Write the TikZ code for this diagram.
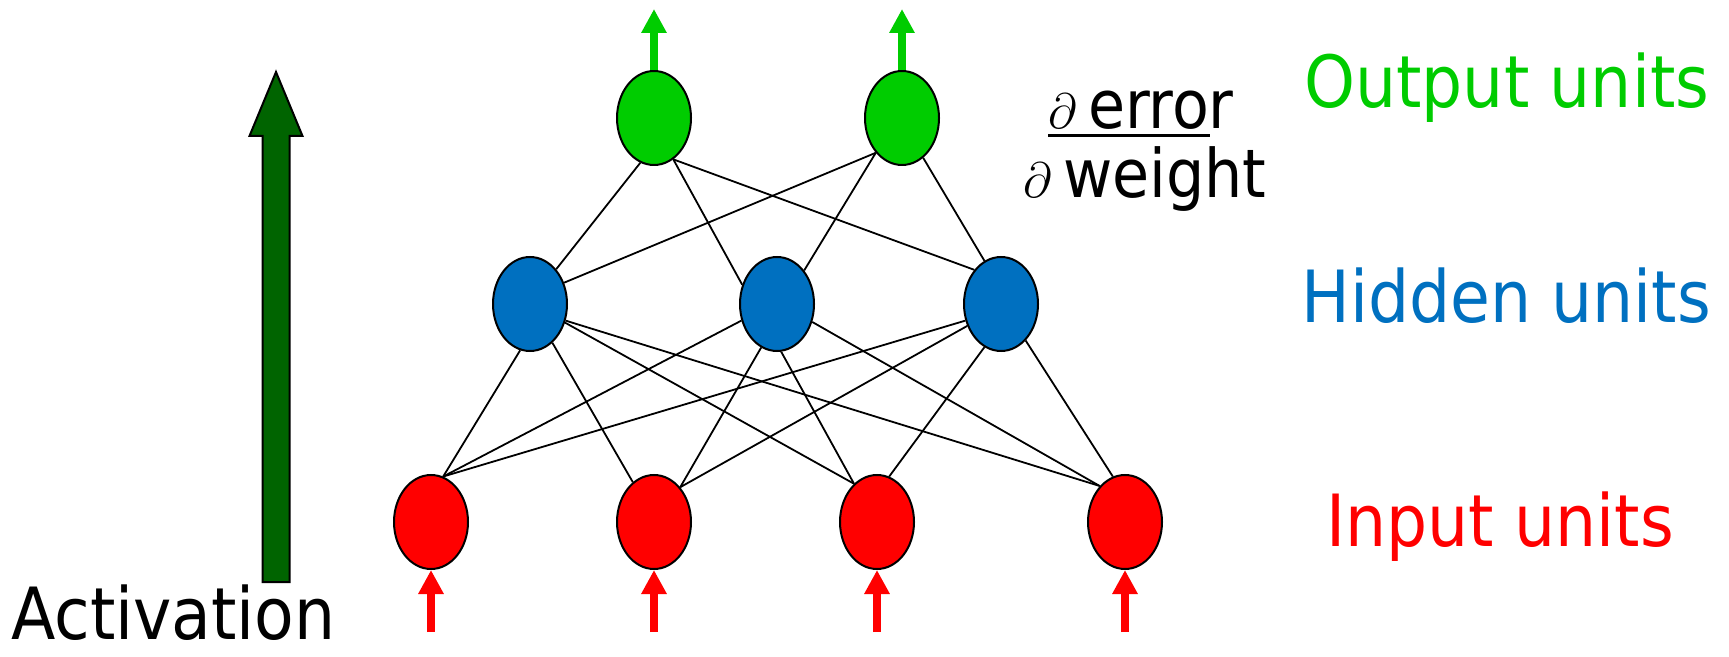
\documentclass[tikz,border=0pt]{standalone}
\usepackage{fontspec}
\setmainfont{DejaVu Sans Condensed}
\usetikzlibrary{shapes.geometric,arrows.meta}

\definecolor{outgreen}{RGB}{0,204,0}
\definecolor{hidblue}{RGB}{0,112,192}
\definecolor{inred}{RGB}{255,0,0}
\definecolor{actgreen}{RGB}{0,100,0}

\tikzset{
  unit/.style={ellipse, draw=black, line width=1pt, minimum width=37pt,
               minimum height=47pt, inner sep=0pt},
  outunit/.style={unit, fill=outgreen},
  hidunit/.style={unit, fill=hidblue},
  inunit/.style={unit, fill=inred},
  link/.style={draw=black, line width=0.9pt},
  flow/.style={line width=4pt, -{Triangle[length=12pt,width=12pt]}},
  label/.style={inner sep=0pt, anchor=base west, font=\fontsize{36pt}{40pt}\selectfont},
  fraclabel/.style={label, font=\fontsize{33.5pt}{38pt}\selectfont}
}

\begin{document}
\begin{tikzpicture}[x=0.5pt,y=-0.5pt]
\useasboundingbox (0,0) rectangle (1729,657);

% units of the three layers
\node[outunit] (O1) at (654,118) {};
\node[outunit] (O2) at (902,118) {};
\node[hidunit] (H1) at (530,304) {};
\node[hidunit] (H2) at (777,304) {};
\node[hidunit] (H3) at (1001,304) {};
\node[inunit] (I1) at (431,522) {};
\node[inunit] (I2) at (654,522) {};
\node[inunit] (I3) at (877,522) {};
\node[inunit] (I4) at (1125,522) {};

% weights between output and hidden units
\draw[link] (O1.253) -- (H1.53);
\draw[link] (O1.295) -- (H2.151);
\draw[link] (O1.295) -- (H3.128);
\draw[link] (O2.233) -- (H1.32);
\draw[link] (O2.233) -- (H2.51);
\draw[link] (O2.298) -- (H3.111);

% weights between hidden and input units
\draw[link] (H1.258) -- (I1.75);
\draw[link] (H1.300) -- (I2.118);
\draw[link] (H1.332) -- (I3.121);
\draw[link] (H1.335) -- (I4.125);
\draw[link] (H2.205) -- (I1.75);
\draw[link] (H2.250) -- (I2.53);
\draw[link] (H2.275) -- (I3.121);
\draw[link] (H2.333) -- (I4.125);
\draw[link] (H3.205) -- (I1.75);
\draw[link] (H3.213) -- (I2.53);
\draw[link] (H3.249) -- (I3.75);
\draw[link] (H3.304) -- (I4.105);

% outputs leaving the network
\coordinate (o1out) at (654,9);
\coordinate (o2out) at (902,9);
\draw[flow, outgreen] (O1.north) -- (o1out);
\draw[flow, outgreen] (O2.north) -- (o2out);

% inputs entering the network
\foreach \i/\x in {1/431,2/654,3/877,4/1125}{
  \coordinate (in\i) at (\x,632);
  \draw[flow, inred] (in\i) -- (I\i.south);
}

% activation direction
\draw[line width=1pt, fill=actgreen]
  (262.5,582) -- (262.5,136) -- (249.5,136) -- (276,72) -- (302.5,136)
  -- (289.5,136) -- (289.5,582) -- cycle;
\node[label] (act) at (11,639) {Activation};

% layer names
\node[label, text=outgreen] (outlbl) at (1304,108) {Output units};
\node[label, text=hidblue] (hidlbl) at (1301,323) {Hidden units};
\node[label, text=inred] (inlbl) at (1326,546) {Input units};

% gradient of the error
\node[fraclabel] (num) at (1048,129) {$\partial$\,error};
\node[fraclabel] (den) at (1023,198) {$\partial$\,weight};
\draw[line width=1.5pt] (1048,136) -- (1210,136);
\end{tikzpicture}
\end{document}
